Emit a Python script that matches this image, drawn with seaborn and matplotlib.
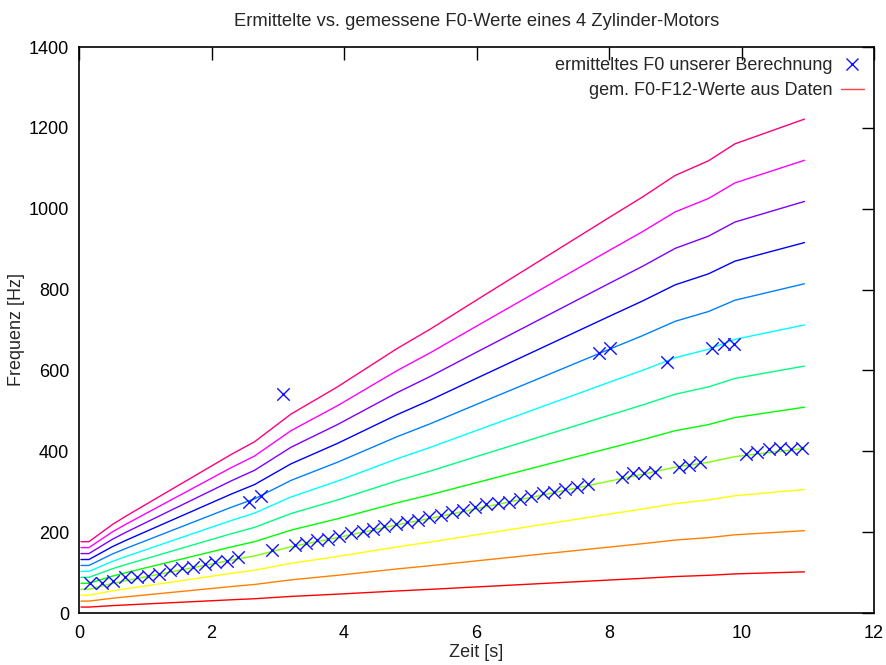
import matplotlib
matplotlib.use("Agg")
import matplotlib.pyplot as plt
from matplotlib.lines import Line2D
import seaborn as sns

# Zeitachse der gemessenen Harmonischen [s]
t_lines = [0.03, 0.15, 0.5, 0.7, 1.0, 1.5, 2.0, 2.3, 2.65, 3.2, 3.9, 4.8, 5.3,
           6.0, 7.0, 8.0, 8.5, 9.0, 9.5, 9.9, 10.95]

# gemessene Frequenzen der Ordnungen F0..F11 [Hz]
F0 = [14.7, 14.7, 18.2, 19.9, 22.3, 26.3, 30.3, 32.7, 35.3, 41.0, 46.6, 54.5, 58.5,
      64.5, 73.0, 81.5, 85.7, 90.2, 93.2, 96.7, 101.8]
F1 = [29.4, 29.4, 36.4, 39.8, 44.6, 52.6, 60.6, 65.4, 70.6, 82.0, 93.2, 109.0, 117.0,
      129.0, 146.0, 163.0, 171.4, 180.4, 186.4, 193.4, 203.6]
F2 = [44.1, 44.1, 54.6, 59.7, 66.9, 78.9, 90.9, 98.1, 105.9, 123.0, 139.8, 163.5, 175.5,
      193.5, 219.0, 244.5, 257.1, 270.6, 279.6, 290.1, 305.4]
F3 = [58.8, 58.8, 72.8, 79.6, 89.2, 105.2, 121.2, 130.8, 141.2, 164.0, 186.4, 218.0, 234.0,
      258.0, 292.0, 326.0, 342.8, 360.8, 372.8, 386.8, 407.2]
F4 = [73.5, 73.5, 91.0, 99.5, 111.5, 131.5, 151.5, 163.5, 176.5, 205.0, 233.0, 272.5, 292.5,
      322.5, 365.0, 407.5, 428.5, 451.0, 466.0, 483.5, 509.0]
F5 = [88.2, 88.2, 109.2, 119.4, 133.8, 157.8, 181.8, 196.2, 211.8, 246.0, 279.6, 327.0, 351.0,
      387.0, 438.0, 489.0, 514.2, 541.2, 559.2, 580.2, 610.8]
F6 = [102.9, 102.9, 127.4, 139.3, 156.1, 184.1, 212.1, 228.9, 247.1, 287.0, 326.2, 381.5, 409.5,
      451.5, 511.0, 570.5, 599.9, 631.4, 652.4, 676.9, 712.6]
F7 = [117.6, 117.6, 145.6, 159.2, 178.4, 210.4, 242.4, 261.6, 282.4, 328.0, 372.8, 436.0, 468.0,
      516.0, 584.0, 652.0, 685.6, 721.6, 745.6, 773.6, 814.4]
F8 = [132.3, 132.3, 163.8, 179.1, 200.7, 236.7, 272.7, 294.3, 317.7, 369.0, 419.4, 490.5, 526.5,
      580.5, 657.0, 733.5, 771.3, 811.8, 838.8, 870.3, 916.2]
F9 = [147.0, 147.0, 182.0, 199.0, 223.0, 263.0, 303.0, 327.0, 353.0, 410.0, 466.0, 545.0, 585.0,
      645.0, 730.0, 815.0, 857.0, 902.0, 932.0, 967.0, 1018.0]
F10 = [161.7, 161.7, 200.2, 218.9, 245.3, 289.3, 333.3, 359.7, 388.3, 451.0, 512.6, 599.5, 643.5,
       709.5, 803.0, 896.5, 942.7, 992.2, 1025.2, 1063.7, 1119.8]
F11 = [176.4, 176.4, 218.4, 238.8, 267.6, 315.6, 363.6, 392.4, 423.6, 492.0, 559.2, 654.0, 702.0,
       774.0, 876.0, 978.0, 1028.4, 1082.4, 1118.4, 1160.4, 1221.6]

# ermittelte Grundfrequenz
t_calc = [0.17, 0.34, 0.52, 0.70, 0.87, 1.04, 1.20, 1.37, 1.55, 1.72, 1.90, 2.06, 2.23,
          2.40, 2.57, 2.74, 2.91, 3.08, 3.26, 3.42, 3.59, 3.76, 3.93, 4.10, 4.28, 4.44,
          4.61, 4.78, 4.95, 5.12, 5.29, 5.46, 5.63, 5.80, 5.98, 6.15, 6.32, 6.49, 6.66,
          6.83, 7.00, 7.17, 7.34, 7.51, 7.68, 7.85, 8.02, 8.19, 8.36, 8.53, 8.69, 8.87,
          9.05, 9.21, 9.37, 9.56, 9.73, 9.89, 10.07, 10.24, 10.41, 10.58, 10.75, 10.91]
f_calc = [75, 75, 80, 88, 90, 91, 96, 107, 112, 114, 121, 126, 129,
          139, 274, 290, 155, 542, 167, 172, 180, 182, 191, 197, 202, 209,
          214, 219, 226, 231, 237, 242, 249, 255, 263, 269, 273, 275, 282,
          290, 296, 300, 306, 312, 318, 644, 655, 336, 346, 346, 348, 620,
          362, 366, 373, 655, 665, 665, 393, 399, 406, 409, 405, 407]

series = [F0, F1, F2, F3, F4, F5, F6, F7, F8, F9, F10, F11]
colors = ["#ff0000", "#ff8000", "#ffff00", "#80ff00", "#00ff00", "#00ff80",
          "#00ffff", "#0080ff", "#0000ff", "#8000ff", "#ff00ff", "#ff0080"]

x_ticks = [0, 2, 4, 6, 8, 10, 12]
y_ticks = [0, 200, 400, 600, 800, 1000, 1200, 1400]

sns.set_style("white")
plt.rcParams["font.family"] = ["Liberation Sans", "DejaVu Sans"]

fig = plt.figure(figsize=(8.86, 6.65), dpi=100)
ax = fig.add_axes([79 / 886, 1 - 613 / 665, (874 - 79) / 886, (613 - 47) / 665])

for vals, col in zip(series, colors):
    sns.lineplot(x=t_lines, y=vals, color=col, linewidth=1.0, ax=ax, sort=False)

sns.scatterplot(x=t_calc, y=f_calc, marker="x", color="#1010ff", s=80,
                linewidth=1.0, ax=ax, zorder=5)

ax.set_xlim(0, 12)
ax.set_ylim(0, 1400)
ax.set_xticks(x_ticks)
ax.set_yticks(y_ticks)
ax.tick_params(direction="in", length=9, width=1, top=True, right=True,
               labelsize=13, colors="black")
ax.tick_params(axis="x", pad=9)
ax.tick_params(axis="y", pad=7)
for sp in ax.spines.values():
    sp.set_color("black")
    sp.set_linewidth(1.2)

ax.set_xlabel("Zeit [s]", fontsize=13, labelpad=1)
ax.set_ylabel("Frequenz [Hz]", fontsize=13, labelpad=3)
ax.set_title("Ermittelte vs. gemessene F0-Werte eines 4 Zylinder-Motors",
             fontsize=13.2, pad=15)

handles = [Line2D([], [], linestyle="none", marker="x", color="#1010ff",
                  markersize=9, markeredgewidth=1.0),
           Line2D([], [], color="#ff4040", linewidth=1.0)]
labels = ["ermitteltes F0 unserer Berechnung", "gem. F0-F12-Werte aus Daten"]
ax.legend(handles, labels, loc="upper right", frameon=False, markerfirst=False,
          fontsize=13, handlelength=1.3, handletextpad=0.45,
          borderaxespad=0.15, labelspacing=0.45)

fig.savefig("out.png", dpi=100)
